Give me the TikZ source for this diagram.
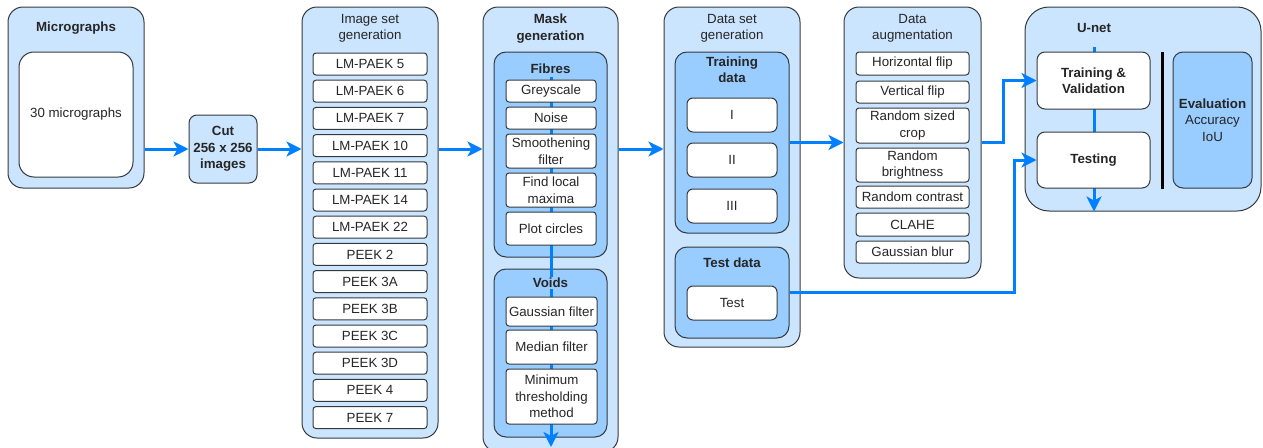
\documentclass[tikz,border=0pt]{standalone}
\usepackage{fontspec}
\setmainfont{Liberation Sans}
\usetikzlibrary{positioning, arrows.meta}
\definecolor{paleblue}{HTML}{CCE5FF}
\definecolor{midblue}{HTML}{99CCFF}
\definecolor{flowblue}{HTML}{007FFF}
\definecolor{edgegray}{HTML}{36393D}
\newcommand{\flowfont}{\fontsize{13.3}{16.5}\selectfont}

\begin{document}
\begin{tikzpicture}[x=1pt, y=-1pt,
    group/.style={rectangle, rounded corners=15pt, draw=edgegray, line width=1pt, fill=paleblue},
    subgroup/.style={rectangle, rounded corners=12pt, draw=edgegray, line width=1pt, fill=midblue},
    item/.style={rectangle, rounded corners=3pt, draw=edgegray, line width=1pt, fill=white,
                 minimum width=114pt, minimum height=22pt, inner sep=0pt, align=center},
    heading/.style={font=\flowfont\bfseries, align=center},
    plain/.style={font=\flowfont, align=center},
    arrow/.style={-{Stealth[length=15pt, width=15pt, inset=4pt]}, line width=3pt, draw=flowblue},
    font=\flowfont, text=black!85
]
    \useasboundingbox (0,0) rectangle (1263,447);

    % Micrographs
    \node[group, minimum width=136pt, minimum height=181pt] (micro) at (76,97.5) {};
    \node[heading] (microT) at (76,28) {Micrographs};
    \node[item, rounded corners=15pt, minimum width=114pt, minimum height=125pt] (microIn) at (76,114.5) {30 micrographs};

    % Cut
    \node[group, rounded corners=8pt, minimum width=68pt, minimum height=68pt, font=\flowfont\bfseries, align=center] (cut) at (223,149) {Cut\\256 x 256\\images};

    % Image set generation
    \node[group, minimum width=136pt, minimum height=431pt] (imgset) at (370,222.5) {};
    \node[plain] (imgsetT) at (370,28.5) {Image set\\generation};
    \node[item] (img1) at (370,64) {LM-PAEK 5};
    \node[item] (img2) at (370,91.2) {LM-PAEK 6};
    \node[item] (img3) at (370,118.4) {LM-PAEK 7};
    \node[item] (img4) at (370,145.6) {LM-PAEK 10};
    \node[item] (img5) at (370,172.8) {LM-PAEK 11};
    \node[item] (img6) at (370,200) {LM-PAEK 14};
    \node[item] (img7) at (370,227.2) {LM-PAEK 22};
    \node[item] (img8) at (370,254.4) {PEEK 2};
    \node[item] (img9) at (370,281.6) {PEEK 3A};
    \node[item] (img10) at (370,308.8) {PEEK 3B};
    \node[item] (img11) at (370,336) {PEEK 3C};
    \node[item] (img12) at (370,363.2) {PEEK 3D};
    \node[item] (img13) at (370,390.4) {PEEK 4};
    \node[item] (img14) at (370,417.6) {PEEK 7};

    % Mask generation
    \node[group, minimum width=135pt, minimum height=445pt] (mask) at (550.5,229.5) {};
    \node[heading] (maskT) at (550.5,28.5) {Mask\\generation};
    \node[subgroup, minimum width=113pt, minimum height=205pt] (fibres) at (550.5,154.5) {};
    \node[heading] (fibT) at (550.5,69) {Fibres};
    \node[subgroup, minimum width=113pt, minimum height=168pt] (voids) at (550.5,353) {};
    \coordinate (maskEnd) at (551,447);
    \draw[arrow] (fibT.south -| maskEnd) -- (maskEnd);
    \node[heading, fill=midblue, inner sep=1pt] (voidT) at (550.5,283) {Voids};
    \node[item, minimum width=90pt] (grey) at (551,91) {Greyscale};
    \node[item, minimum width=90pt] (noise) at (551,118) {Noise};
    \node[item, minimum width=90pt, minimum height=34pt] (smooth) at (551,151) {Smoothening\\filter};
    \node[item, minimum width=90pt, minimum height=34pt] (maxima) at (551,190) {Find local\\maxima};
    \node[item, minimum width=90pt, minimum height=33pt] (circles) at (551,228.5) {Plot circles};
    \node[item, minimum width=91pt, minimum height=29pt] (gauss) at (551.5,311.5) {Gaussian filter};
    \node[item, minimum width=91pt, minimum height=34pt] (median) at (551.5,347) {Median filter};
    \node[item, minimum width=91pt, minimum height=55pt] (thresh) at (551.5,396.5) {Minimum\\thresholding\\method};

    % Data set generation
    \node[group, minimum width=136pt, minimum height=340pt] (dataset) at (732,177) {};
    \node[plain] (datasetT) at (732,28.5) {Data set\\generation};
    \node[subgroup, minimum width=114pt, minimum height=181pt] (train) at (732,142.5) {};
    \node[heading] (trainT) at (732,69.5) {Training\\data};
    \node[item, rounded corners=6pt, minimum width=90pt, minimum height=34pt] (dI) at (732,115) {I};
    \node[item, rounded corners=6pt, minimum width=90pt, minimum height=34pt] (dII) at (732,160) {II};
    \node[item, rounded corners=6pt, minimum width=90pt, minimum height=34pt] (dIII) at (732,206) {III};
    \node[subgroup, minimum width=114pt, minimum height=91pt] (testd) at (732,292.5) {};
    \node[heading] (testdT) at (732,263) {Test data};
    \node[item, rounded corners=6pt, minimum width=90pt, minimum height=34pt] (test) at (732,303) {Test};

    % Data augmentation
    \node[group, minimum width=137pt, minimum height=271pt] (aug) at (912.5,142.5) {};
    \node[plain] (augT) at (912.5,28.5) {Data\\augmentation};
    \node[item, minimum width=113pt, minimum height=23pt] (hflip) at (912.5,63.5) {Horizontal flip};
    \node[item, minimum width=113pt] (vflip) at (912.5,92) {Vertical flip};
    \node[item, minimum width=113pt, minimum height=35pt] (crop) at (912.5,125.5) {Random sized\\crop};
    \node[item, minimum width=113pt, minimum height=34pt] (bright) at (912.5,165) {Random\\brightness};
    \node[item, minimum width=113pt] (contrast) at (912.5,197) {Random contrast};
    \node[item, minimum width=113pt, minimum height=23pt] (clahe) at (912.5,224.5) {CLAHE};
    \node[item, minimum width=113pt] (blur) at (912.5,252) {Gaussian blur};

    % U-net
    \node[group, rounded corners=24pt, minimum width=236pt, minimum height=204pt] (unet) at (1143,109) {};
    \node[heading] (unetT) at (1094,28) {U-net};
    \coordinate (unetTop) at (1094,47);
    \draw[arrow] (unetTop) -- (unetTop |- unet.south);
    \node[item, rounded corners=8pt, minimum width=113pt, minimum height=57pt, font=\flowfont\bfseries] (trval) at (1093.5,80.5) {Training \&\\Validation};
    \node[item, rounded corners=8pt, minimum width=113pt, minimum height=56pt, font=\flowfont\bfseries] (testing) at (1093.5,160) {Testing};
    \coordinate (divTop) at (1162,52);
    \coordinate (divBot) at (1162,189);
    \draw[line width=3pt] (divTop) -- (divBot);
    \node[subgroup, rounded corners=10pt, minimum width=79pt, minimum height=136pt, align=center] (eval) at (1212.5,120) {\textbf{Evaluation}\\Accuracy\\IoU};

    % Arrows
    \draw[arrow] (micro.east |- cut.west) -- (cut.west);
    \draw[arrow] (cut.east) -- (imgset.west |- cut.east);
    \draw[arrow] (imgset.east |- cut.east) -- (mask.west |- cut.east);
    \draw[arrow] (mask.east |- cut.east) -- (dataset.west |- cut.east);
    \draw[arrow] (train.east) -- (aug.west |- train.east);
    \draw[arrow] (aug.east) -- ++(22,0) |- (trval.west);
    \draw[arrow] (testd.east) -- ++(225,0) |- (testing.west);

\end{tikzpicture}
\end{document}
